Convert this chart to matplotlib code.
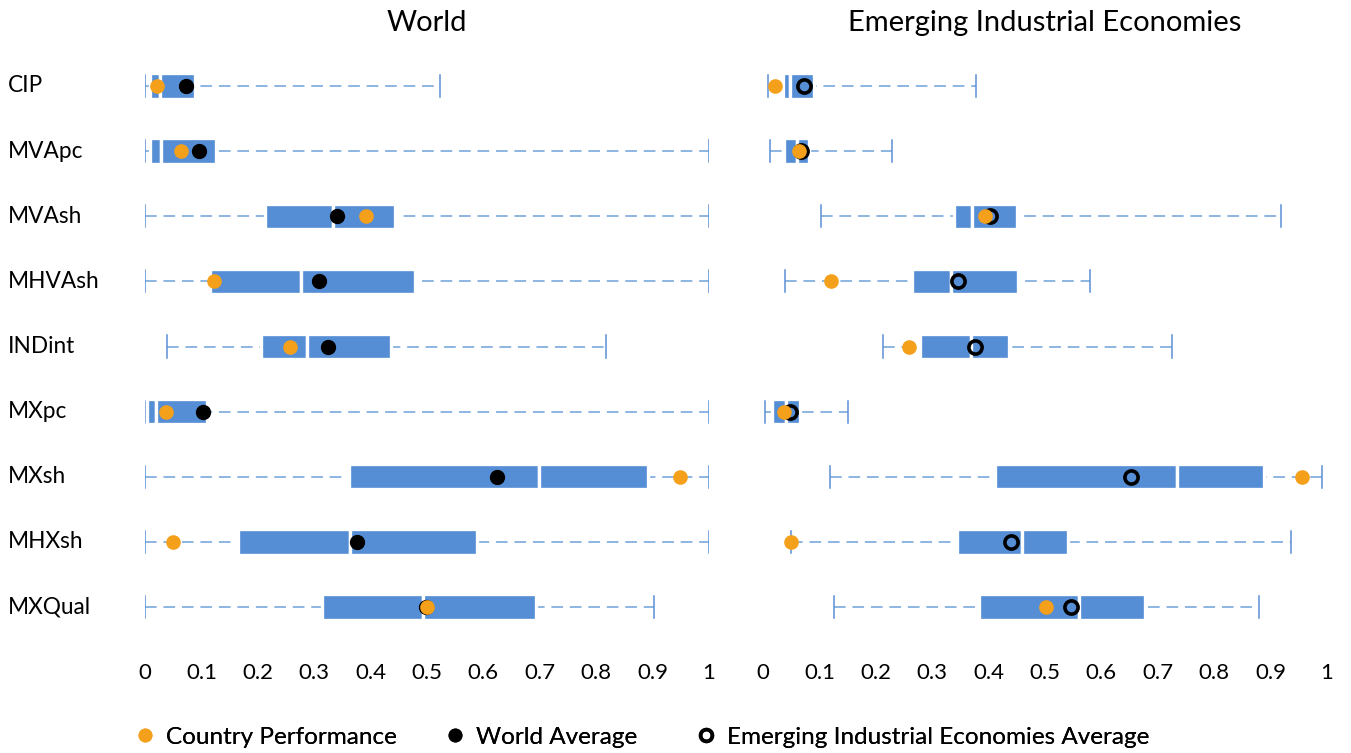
import matplotlib
matplotlib.use("Agg")
import matplotlib.pyplot as plt
from matplotlib.lines import Line2D

plt.rcParams['font.family'] = ['Lato', 'DejaVu Sans']

indicators = ["CIP", "MVApc", "MVAsh", "MHVAsh", "INDint", "MXpc", "MXsh", "MHXsh", "MXQual"]
panel_titles = ["World", "Emerging Industrial Economies"]
tick_vals = [0, 0.1, 0.2, 0.3, 0.4, 0.5, 0.6, 0.7, 0.8, 0.9, 1]
tick_labels = ["0", "0.1", "0.2", "0.3", "0.4", "0.5", "0.6", "0.7", "0.8", "0.9", "1"]

# World distribution
w_min = [0.0, 0.0, 0.0, 0.0, 0.039, 0.0, 0.0, 0.0, 0.0]
w_q1 = [0.008, 0.008, 0.213, 0.115, 0.205, 0.004, 0.361, 0.165, 0.313]
w_med = [0.027, 0.028, 0.334, 0.277, 0.287, 0.020, 0.698, 0.363, 0.493]
w_q3 = [0.089, 0.126, 0.444, 0.479, 0.437, 0.110, 0.892, 0.588, 0.694]
w_max = [0.523, 1.0, 1.0, 1.0, 0.817, 1.0, 1.0, 1.0, 0.902]
w_country = [0.022, 0.064, 0.391, 0.122, 0.257, 0.037, 0.949, 0.049, 0.500]
w_avg = [0.072, 0.096, 0.341, 0.308, 0.325, 0.103, 0.624, 0.375, 0.499]

# Emerging Industrial Economies distribution
e_min = [0.009, 0.013, 0.102, 0.039, 0.213, 0.004, 0.118, 0.049, 0.126]
e_q1 = [0.036, 0.038, 0.339, 0.265, 0.278, 0.016, 0.411, 0.344, 0.383]
e_med = [0.047, 0.061, 0.370, 0.334, 0.369, 0.040, 0.734, 0.460, 0.561]
e_q3 = [0.090, 0.081, 0.450, 0.453, 0.437, 0.066, 0.889, 0.540, 0.678]
e_max = [0.378, 0.228, 0.918, 0.580, 0.726, 0.151, 0.992, 0.936, 0.879]
e_country = [0.021, 0.064, 0.393, 0.121, 0.258, 0.037, 0.955, 0.049, 0.502]
e_avg = [0.072, 0.068, 0.403, 0.345, 0.376, 0.047, 0.653, 0.439, 0.546]

legend_labels = ["Country Performance", "World Average", "Emerging Industrial Economies Average"]

BOX = '#558ED5'
WHISK = '#8DB4E2'
CAP = '#5B8FD6'
ORANGE = '#F5A01A'

W, H = 1351, 753
fig = plt.figure(figsize=(W / 100, H / 100), dpi=100)

row_px = 65.125
top_px = 86 - 0.5 * row_px
bot_px = 607 + 0.5 * row_px
ax_l = fig.add_axes([145 / W, 1 - bot_px / H, 564 / W, (bot_px - top_px) / H])
ax_r = fig.add_axes([763 / W, 1 - bot_px / H, 564 / W, (bot_px - top_px) / H])


def draw(ax, mn, q1, med, q3, mx, country, avg, avg_style, title):
    ys = list(range(len(indicators)))
    for i in ys:
        ax.plot([mn[i], mx[i]], [i, i], color=WHISK, lw=1.4, ls=(0, (6, 3.5)), zorder=1,
                solid_capstyle='butt', dash_capstyle='butt')
        for v in (mn[i], mx[i]):
            ax.plot([v, v], [i - 0.17, i + 0.17], color=CAP, lw=1.1, zorder=1)
    ax.barh(ys, [m - a for m, a in zip(med, q1)], left=q1, height=0.39, color=BOX,
            edgecolor='white', linewidth=2.4, zorder=2)
    ax.barh(ys, [b - m for b, m in zip(q3, med)], left=med, height=0.39, color=BOX,
            edgecolor='white', linewidth=2.4, zorder=2)
    if avg_style == 'filled':
        ax.plot(avg, ys, 'o', color='black', ms=10, ls='none', zorder=3, clip_on=False)
    else:
        ax.plot(avg, ys, 'o', mfc='none', mec='black', mew=2.6, ms=9.5, ls='none',
                zorder=3, clip_on=False)
    ax.plot(country, ys, 'o', color=ORANGE, ms=9.5, ls='none', zorder=4, clip_on=False)
    ax.set_xlim(0, 1)
    ax.set_ylim(len(indicators) - 0.5, -0.5)
    ax.set_xticks(tick_vals)
    ax.set_xticklabels(tick_labels, fontsize=16)
    ax.set_yticks([])
    ax.tick_params(axis='x', length=0, pad=17)
    for s in ax.spines.values():
        s.set_visible(False)
    ax.set_title(title, fontsize=21, pad=16)


draw(ax_l, w_min, w_q1, w_med, w_q3, w_max, w_country, w_avg, 'filled', panel_titles[0])
draw(ax_r, e_min, e_q1, e_med, e_q3, e_max, e_country, e_avg, 'open', panel_titles[1])

for i, name in enumerate(indicators):
    fig.text(8 / W, 1 - (86 + i * row_px) / H, name, fontsize=16.3, ha='left', va='center')

handles = [
    Line2D([], [], marker='o', color=ORANGE, ls='none', ms=9),
    Line2D([], [], marker='o', color='black', ls='none', ms=9),
    Line2D([], [], marker='o', mfc='none', mec='black', mew=2.6, ms=8.5, ls='none'),
]
leg_fs = 17.5
fs_px = leg_fs * 100 / 72
hl = 0.8
marker_x = [145, 455, 706]
for h, lab, mxp in zip(handles, legend_labels, marker_x):
    x0 = mxp - hl * fs_px / 2
    lg = fig.legend([h], [lab], loc='center left', bbox_to_anchor=(x0 / W, 1 - 737 / H),
                    frameon=False, fontsize=leg_fs, handletextpad=0.45, handlelength=hl,
                    borderaxespad=0, borderpad=0)
    fig.add_artist(lg)

fig.savefig('out.png', dpi=100)
